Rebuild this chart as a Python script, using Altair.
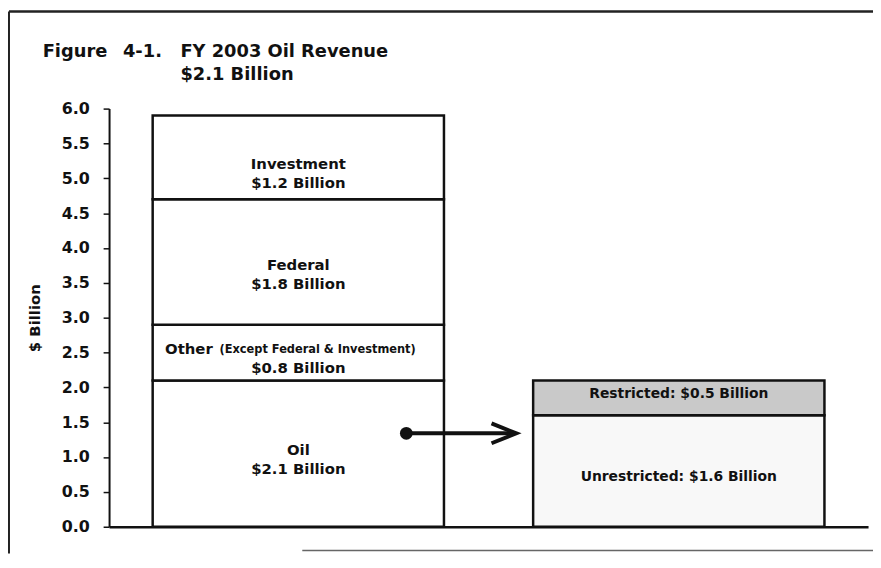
import altair as alt
import pandas as pd

# ---------------- data ----------------
bar_names = ["Revenue", "Oil"]
left_segments = ["Oil", "Other", "Federal", "Investment"]
left_values = [2.1, 0.8, 1.8, 1.2]
left_amounts = ["$2.1 Billion", "$0.8 Billion", "$1.8 Billion", "$1.2 Billion"]
other_note = "(Except Federal & Investment)"
right_segments = ["Unrestricted", "Restricted"]
right_values = [1.6, 0.5]
right_labels = ["Unrestricted: $1.6 Billion", "Restricted: $0.5 Billion"]
arrow_level = [1.34]
y_ticks = [0.0, 0.5, 1.0, 1.5, 2.0, 2.5, 3.0, 3.5, 4.0, 4.5, 5.0, 5.5, 6.0]
title_parts = ["Figure", "4-1.", "FY 2003 Oil Revenue", "$2.1 Billion"]
y_title = "$ Billion"

# ---------------- styling ----------------
FONT = "DejaVu Sans"
INK = "#111111"
label_shift = {"Investment": 16, "Federal": 13, "Other": 6, "Oil": 6,
               "Restricted": -4, "Unrestricted": 6}
seg_fill = {"Oil": "#ffffff", "Other": "#ffffff", "Federal": "#ffffff",
            "Investment": "#ffffff", "Unrestricted": "#f8f8f8", "Restricted": "#c9c9c9"}

# ---------------- table ----------------
rows = []
for bar, segs, vals, texts in [
    (bar_names[0], left_segments, left_values, left_amounts),
    (bar_names[1], right_segments, right_values, right_labels),
]:
    base = 0.0
    for s, v, t in zip(segs, vals, texts):
        rows.append({"bar": bar, "seg": s, "y0": base, "y1": base + v,
                     "mid": base + v / 2, "label": t})
        base += v
df = pd.DataFrame(rows)

x_enc = alt.X(
    "bar:N",
    scale=alt.Scale(domain=bar_names, paddingInner=0.2344, paddingOuter=0.1146),
    axis=alt.Axis(labels=False, ticks=False, title=None, domainColor=INK,
                  domainWidth=2.5, grid=False),
)
y_scale = alt.Scale(domain=[0, 6], nice=False, zero=True)
y_axis = alt.Axis(
    values=y_ticks, format=".1f", title=y_title, grid=False,
    labelFont=FONT, labelFontWeight="bold", labelFontSize=16, labelColor=INK,
    labelPadding=14, tickSize=6, tickWidth=1.5, tickColor=INK,
    domainColor=INK, domainWidth=2,
    titleFont=FONT, titleFontWeight="bold", titleFontSize=15, titleColor=INK,
    titlePadding=19,
)


def Y(field):
    return alt.Y(field, scale=y_scale, axis=y_axis)


layers = []

bars = alt.Chart(df).mark_bar(stroke=INK, strokeWidth=2.5).encode(
    x=x_enc,
    y=Y("y0:Q"),
    y2="y1:Q",
    fill=alt.Fill("seg:N",
                  scale=alt.Scale(domain=list(seg_fill.keys()),
                                  range=list(seg_fill.values())),
                  legend=None),
)
layers.append(bars)

txt_style = dict(font=FONT, fontWeight="bold", color=INK, baseline="middle")

# left bar labels: name line + amount line
for _, r in df[df["bar"] == bar_names[0]].iterrows():
    one = pd.DataFrame([r.to_dict()])
    sh = label_shift[r["seg"]]
    if r["seg"] == "Other":
        layers.append(alt.Chart(one).mark_text(align="left", dx=-134.5, dy=sh - 9.5,
                                               fontSize=15, **txt_style)
                      .encode(x=x_enc, y=Y("mid:Q"), text="seg:N"))
        note = one.assign(note=other_note)
        layers.append(alt.Chart(note).mark_text(align="left", dx=-79.5, dy=sh - 9,
                                                fontSize=11.5, **txt_style)
                      .encode(x=x_enc, y=Y("mid:Q"), text="note:N"))
    else:
        layers.append(alt.Chart(one).mark_text(align="center", dy=sh - 9.5,
                                               fontSize=15, **txt_style)
                      .encode(x=x_enc, y=Y("mid:Q"), text="seg:N"))
    layers.append(alt.Chart(one).mark_text(align="center", dy=sh + 9.5,
                                           fontSize=15, **txt_style)
                  .encode(x=x_enc, y=Y("mid:Q"), text="label:N"))

# right bar labels: single line
for _, r in df[df["bar"] == bar_names[1]].iterrows():
    one = pd.DataFrame([r.to_dict()])
    layers.append(alt.Chart(one).mark_text(align="center", dy=label_shift[r["seg"]],
                                           fontSize=14, **txt_style)
                  .encode(x=x_enc, y=Y("mid:Q"), text="label:N"))

# arrow from the oil segment to the oil bar
arrow_df = pd.DataFrame({"level": arrow_level})
layers.append(alt.Chart(arrow_df).mark_rule(strokeWidth=4, color=INK).encode(
    x=alt.value(300), x2=alt.value(407), y=Y("level:Q")))
layers.append(alt.Chart(arrow_df).mark_point(shape="circle", filled=True, size=165,
                                             color=INK, opacity=1).encode(
    x=alt.value(300), y=Y("level:Q")))
layers.append(alt.Chart(arrow_df).mark_point(shape="M-1,-0.4L0,0L-1,0.4", filled=False,
                                             size=2500, strokeWidth=4, color=INK,
                                             opacity=1).encode(
    x=alt.value(411), y=Y("level:Q")))


# title lines
def free_text(t, x, y, size):
    return alt.Chart(pd.DataFrame({"t": [t]})).mark_text(
        align="left", fontSize=size, **txt_style
    ).encode(x=alt.value(x), y=alt.value(y), text="t:N")


layers.append(free_text(title_parts[0], -67, -57, 18))
layers.append(free_text(title_parts[1], 14, -57, 18))
layers.append(free_text(title_parts[2], 72, -57, 18))
layers.append(free_text(title_parts[3], 72, -34, 18))


# scanned frame lines
def frame_line(x, x2, y, y2, w, c):
    return alt.Chart(pd.DataFrame({"k": [0]})).mark_rule(strokeWidth=w, color=c).encode(
        x=alt.value(x), x2=alt.value(x2), y=alt.value(y), y2=alt.value(y2))


layers.append(frame_line(-101, -101, -98, 449, 2, "#222222"))
layers.append(frame_line(-101, 771, -98, -98, 2.5, "#222222"))
layers.append(frame_line(195, 771, 446, 446, 1.5, "#666666"))

chart = alt.layer(*layers).properties(
    width=766,
    height=422,
    padding={"left": 102, "top": 99, "right": 5, "bottom": 27},
    autosize=alt.AutoSizeParams(type="none"),
    background="white",
).configure_view(strokeOpacity=0)

chart.save("out.html", embed_options={"renderer": "svg", "actions": False})
